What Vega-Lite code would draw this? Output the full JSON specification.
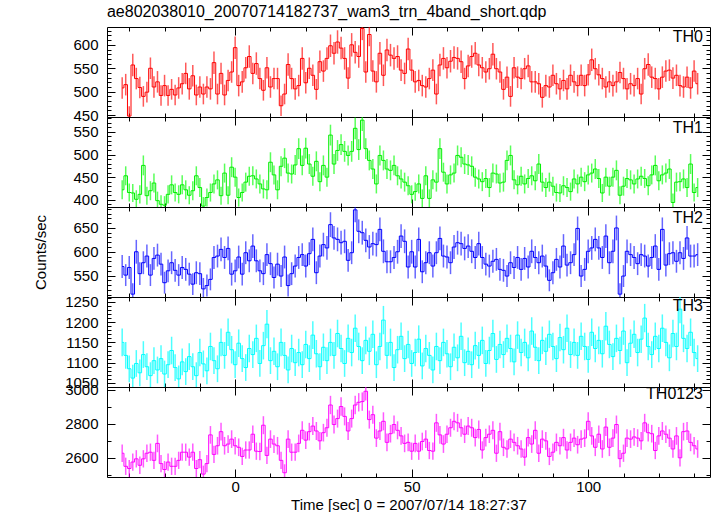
{
"$schema":"https://vega.github.io/schema/vega-lite/v6.json",
"padding":{"left":33,"top":3,"right":0,"bottom":0},
"title":{"text":"ae802038010_20070714182737_wam3_trn_4band_short.qdp","anchor":"start","fontSize":16,"fontWeight":"normal","offset":6,"dx":73},
"spacing":0,
"bounds":"flush",
"config":{
 "view":{"stroke":null},
 "font":"Liberation Sans",
 "numberFormat":"d",
 "axis":{"grid":false,"domainColor":"#000","domainWidth":1,"tickColor":"#000","tickWidth":1,"labelColor":"#000","labelFont":"Liberation Sans","labelFontSize":15,"labelPadding":17,"labelOverlap":false,"labelFlush":false,"format":"d","titleFont":"Liberation Sans","titleFontSize":15,"titleFontWeight":"normal","titleColor":"#000"},
 "title":{"font":"Liberation Sans","fontSize":16,"fontWeight":"normal","color":"#000"}
},
"datasets":{
"th0":[{"t":-32,"v":508,"e":23},{"t":-31,"v":515,"e":23},{"t":-30,"v":448,"e":21},{"t":-29,"v":557,"e":24},{"t":-28,"v":528,"e":23},{"t":-27,"v":509,"e":23},{"t":-26,"v":490,"e":22},{"t":-25,"v":499,"e":22},{"t":-24,"v":550,"e":23},{"t":-23,"v":510,"e":23},{"t":-22,"v":521,"e":23},{"t":-21,"v":492,"e":22},{"t":-20,"v":513,"e":23},{"t":-19,"v":492,"e":22},{"t":-18,"v":505,"e":22},{"t":-17,"v":493,"e":22},{"t":-16,"v":508,"e":23},{"t":-15,"v":517,"e":23},{"t":-14,"v":539,"e":23},{"t":-13,"v":506,"e":23},{"t":-12,"v":534,"e":23},{"t":-11,"v":493,"e":22},{"t":-10,"v":510,"e":23},{"t":-9,"v":495,"e":22},{"t":-8,"v":510,"e":23},{"t":-7,"v":506,"e":23},{"t":-6,"v":562,"e":24},{"t":-5,"v":495,"e":22},{"t":-4,"v":539,"e":23},{"t":-3,"v":493,"e":22},{"t":-2,"v":524,"e":23},{"t":-1,"v":542,"e":23},{"t":0,"v":594,"e":24},{"t":1,"v":513,"e":23},{"t":2,"v":521,"e":23},{"t":3,"v":551,"e":23},{"t":4,"v":575,"e":24},{"t":5,"v":539,"e":23},{"t":6,"v":560,"e":24},{"t":7,"v":528,"e":23},{"t":8,"v":503,"e":22},{"t":9,"v":551,"e":23},{"t":10,"v":510,"e":23},{"t":11,"v":528,"e":23},{"t":12,"v":528,"e":23},{"t":13,"v":470,"e":22},{"t":14,"v":495,"e":22},{"t":15,"v":558,"e":24},{"t":16,"v":528,"e":23},{"t":17,"v":506,"e":23},{"t":18,"v":513,"e":23},{"t":19,"v":571,"e":24},{"t":20,"v":519,"e":23},{"t":21,"v":550,"e":23},{"t":22,"v":535,"e":23},{"t":23,"v":505,"e":22},{"t":24,"v":564,"e":24},{"t":25,"v":544,"e":23},{"t":26,"v":571,"e":24},{"t":27,"v":598,"e":24},{"t":28,"v":582,"e":24},{"t":29,"v":606,"e":25},{"t":30,"v":593,"e":24},{"t":31,"v":571,"e":24},{"t":32,"v":529,"e":23},{"t":33,"v":600,"e":25},{"t":34,"v":584,"e":24},{"t":35,"v":575,"e":24},{"t":36,"v":635,"e":25},{"t":37,"v":542,"e":23},{"t":38,"v":622,"e":25},{"t":39,"v":544,"e":23},{"t":40,"v":521,"e":23},{"t":41,"v":582,"e":24},{"t":42,"v":535,"e":23},{"t":43,"v":589,"e":24},{"t":44,"v":578,"e":24},{"t":45,"v":571,"e":24},{"t":46,"v":575,"e":24},{"t":47,"v":546,"e":23},{"t":48,"v":539,"e":23},{"t":49,"v":591,"e":24},{"t":50,"v":546,"e":23},{"t":51,"v":521,"e":23},{"t":52,"v":524,"e":23},{"t":53,"v":513,"e":23},{"t":54,"v":510,"e":23},{"t":55,"v":528,"e":23},{"t":56,"v":546,"e":23},{"t":57,"v":495,"e":22},{"t":58,"v":557,"e":24},{"t":59,"v":571,"e":24},{"t":60,"v":551,"e":23},{"t":61,"v":565,"e":24},{"t":62,"v":573,"e":24},{"t":63,"v":571,"e":24},{"t":64,"v":564,"e":24},{"t":65,"v":528,"e":23},{"t":66,"v":555,"e":24},{"t":67,"v":575,"e":24},{"t":68,"v":582,"e":24},{"t":69,"v":557,"e":24},{"t":70,"v":551,"e":23},{"t":71,"v":542,"e":23},{"t":72,"v":549,"e":23},{"t":73,"v":580,"e":24},{"t":74,"v":549,"e":23},{"t":75,"v":542,"e":23},{"t":76,"v":505,"e":22},{"t":77,"v":531,"e":23},{"t":78,"v":490,"e":22},{"t":79,"v":551,"e":23},{"t":80,"v":531,"e":23},{"t":81,"v":528,"e":23},{"t":82,"v":549,"e":23},{"t":83,"v":555,"e":24},{"t":84,"v":521,"e":23},{"t":85,"v":521,"e":23},{"t":86,"v":517,"e":23},{"t":87,"v":488,"e":22},{"t":88,"v":513,"e":23},{"t":89,"v":510,"e":23},{"t":90,"v":535,"e":23},{"t":91,"v":517,"e":23},{"t":92,"v":506,"e":23},{"t":93,"v":524,"e":23},{"t":94,"v":506,"e":23},{"t":95,"v":535,"e":23},{"t":96,"v":521,"e":23},{"t":97,"v":513,"e":23},{"t":98,"v":535,"e":23},{"t":99,"v":513,"e":23},{"t":100,"v":536,"e":23},{"t":101,"v":568,"e":24},{"t":102,"v":549,"e":23},{"t":103,"v":536,"e":23},{"t":104,"v":528,"e":23},{"t":105,"v":510,"e":23},{"t":106,"v":521,"e":23},{"t":107,"v":513,"e":23},{"t":108,"v":521,"e":23},{"t":109,"v":541,"e":23},{"t":110,"v":528,"e":23},{"t":111,"v":506,"e":23},{"t":112,"v":517,"e":23},{"t":113,"v":513,"e":23},{"t":114,"v":528,"e":23},{"t":115,"v":495,"e":22},{"t":116,"v":549,"e":23},{"t":117,"v":558,"e":24},{"t":118,"v":531,"e":23},{"t":119,"v":528,"e":23},{"t":120,"v":506,"e":23},{"t":121,"v":531,"e":23},{"t":122,"v":544,"e":23},{"t":123,"v":546,"e":23},{"t":124,"v":529,"e":23},{"t":125,"v":535,"e":23},{"t":126,"v":513,"e":23},{"t":127,"v":510,"e":23},{"t":128,"v":531,"e":23},{"t":129,"v":508,"e":23},{"t":130,"v":544,"e":23},{"t":131,"v":517,"e":23}],
"th1":[{"t":-32,"v":422,"e":21},{"t":-31,"v":453,"e":21},{"t":-30,"v":416,"e":20},{"t":-29,"v":415,"e":20},{"t":-28,"v":401,"e":20},{"t":-27,"v":412,"e":20},{"t":-26,"v":476,"e":22},{"t":-25,"v":409,"e":20},{"t":-24,"v":420,"e":21},{"t":-23,"v":437,"e":21},{"t":-22,"v":398,"e":20},{"t":-21,"v":390,"e":20},{"t":-20,"v":388,"e":20},{"t":-19,"v":412,"e":20},{"t":-18,"v":433,"e":21},{"t":-17,"v":416,"e":20},{"t":-16,"v":412,"e":20},{"t":-15,"v":433,"e":21},{"t":-14,"v":422,"e":21},{"t":-13,"v":410,"e":20},{"t":-12,"v":420,"e":21},{"t":-11,"v":453,"e":21},{"t":-10,"v":427,"e":21},{"t":-9,"v":386,"e":20},{"t":-8,"v":405,"e":20},{"t":-7,"v":416,"e":20},{"t":-6,"v":435,"e":21},{"t":-5,"v":444,"e":21},{"t":-4,"v":409,"e":20},{"t":-3,"v":459,"e":21},{"t":-2,"v":410,"e":20},{"t":-1,"v":472,"e":22},{"t":0,"v":450,"e":21},{"t":1,"v":405,"e":20},{"t":2,"v":416,"e":20},{"t":3,"v":439,"e":21},{"t":4,"v":452,"e":21},{"t":5,"v":453,"e":21},{"t":6,"v":446,"e":21},{"t":7,"v":435,"e":21},{"t":8,"v":424,"e":21},{"t":9,"v":422,"e":21},{"t":10,"v":483,"e":22},{"t":11,"v":455,"e":21},{"t":12,"v":422,"e":21},{"t":13,"v":474,"e":22},{"t":14,"v":492,"e":22},{"t":15,"v":459,"e":21},{"t":16,"v":457,"e":21},{"t":17,"v":477,"e":22},{"t":18,"v":513,"e":23},{"t":19,"v":476,"e":22},{"t":20,"v":514,"e":23},{"t":21,"v":479,"e":22},{"t":22,"v":452,"e":21},{"t":23,"v":485,"e":22},{"t":24,"v":440,"e":21},{"t":25,"v":476,"e":22},{"t":26,"v":450,"e":21},{"t":27,"v":543,"e":23},{"t":28,"v":479,"e":22},{"t":29,"v":509,"e":23},{"t":30,"v":522,"e":23},{"t":31,"v":507,"e":23},{"t":32,"v":498,"e":22},{"t":33,"v":507,"e":23},{"t":34,"v":558,"e":24},{"t":35,"v":511,"e":23},{"t":36,"v":576,"e":24},{"t":37,"v":513,"e":23},{"t":38,"v":487,"e":22},{"t":39,"v":468,"e":22},{"t":40,"v":435,"e":21},{"t":41,"v":498,"e":22},{"t":42,"v":487,"e":22},{"t":43,"v":468,"e":22},{"t":44,"v":465,"e":22},{"t":45,"v":476,"e":22},{"t":46,"v":453,"e":21},{"t":47,"v":446,"e":21},{"t":48,"v":439,"e":21},{"t":49,"v":431,"e":21},{"t":50,"v":412,"e":20},{"t":51,"v":418,"e":20},{"t":52,"v":435,"e":21},{"t":53,"v":403,"e":20},{"t":54,"v":453,"e":21},{"t":55,"v":403,"e":20},{"t":56,"v":444,"e":21},{"t":57,"v":439,"e":21},{"t":58,"v":513,"e":23},{"t":59,"v":461,"e":21},{"t":60,"v":435,"e":21},{"t":61,"v":455,"e":21},{"t":62,"v":459,"e":21},{"t":63,"v":498,"e":22},{"t":64,"v":494,"e":22},{"t":65,"v":479,"e":22},{"t":66,"v":477,"e":22},{"t":67,"v":474,"e":22},{"t":68,"v":450,"e":21},{"t":69,"v":446,"e":21},{"t":70,"v":440,"e":21},{"t":71,"v":447,"e":21},{"t":72,"v":427,"e":21},{"t":73,"v":459,"e":21},{"t":74,"v":457,"e":21},{"t":75,"v":437,"e":21},{"t":76,"v":439,"e":21},{"t":77,"v":487,"e":22},{"t":78,"v":498,"e":22},{"t":79,"v":444,"e":21},{"t":80,"v":433,"e":21},{"t":81,"v":452,"e":21},{"t":82,"v":435,"e":21},{"t":83,"v":447,"e":21},{"t":84,"v":453,"e":21},{"t":85,"v":442,"e":21},{"t":86,"v":479,"e":22},{"t":87,"v":439,"e":21},{"t":88,"v":427,"e":21},{"t":89,"v":439,"e":21},{"t":90,"v":430,"e":21},{"t":91,"v":416,"e":20},{"t":92,"v":415,"e":20},{"t":93,"v":431,"e":21},{"t":94,"v":427,"e":21},{"t":95,"v":418,"e":20},{"t":96,"v":446,"e":21},{"t":97,"v":435,"e":21},{"t":98,"v":450,"e":21},{"t":99,"v":440,"e":21},{"t":100,"v":455,"e":21},{"t":101,"v":459,"e":21},{"t":102,"v":468,"e":22},{"t":103,"v":447,"e":21},{"t":104,"v":415,"e":20},{"t":105,"v":450,"e":21},{"t":106,"v":430,"e":21},{"t":107,"v":450,"e":21},{"t":108,"v":465,"e":22},{"t":109,"v":410,"e":20},{"t":110,"v":430,"e":21},{"t":111,"v":447,"e":21},{"t":112,"v":444,"e":21},{"t":113,"v":435,"e":21},{"t":114,"v":446,"e":21},{"t":115,"v":452,"e":21},{"t":116,"v":447,"e":21},{"t":117,"v":431,"e":21},{"t":118,"v":455,"e":21},{"t":119,"v":476,"e":22},{"t":120,"v":442,"e":21},{"t":121,"v":455,"e":21},{"t":122,"v":459,"e":21},{"t":123,"v":468,"e":22},{"t":124,"v":394,"e":20},{"t":125,"v":439,"e":21},{"t":126,"v":440,"e":21},{"t":127,"v":446,"e":21},{"t":128,"v":427,"e":21},{"t":129,"v":479,"e":22},{"t":130,"v":416,"e":20},{"t":131,"v":427,"e":21}],
"th2":[{"t":-32,"v":569,"e":24},{"t":-31,"v":551,"e":23},{"t":-30,"v":567,"e":24},{"t":-29,"v":511,"e":23},{"t":-28,"v":600,"e":25},{"t":-27,"v":554,"e":24},{"t":-26,"v":577,"e":24},{"t":-25,"v":591,"e":24},{"t":-24,"v":551,"e":23},{"t":-23,"v":586,"e":24},{"t":-22,"v":593,"e":24},{"t":-21,"v":574,"e":24},{"t":-20,"v":535,"e":23},{"t":-19,"v":560,"e":24},{"t":-18,"v":577,"e":24},{"t":-17,"v":561,"e":24},{"t":-16,"v":551,"e":23},{"t":-15,"v":567,"e":24},{"t":-14,"v":563,"e":24},{"t":-13,"v":553,"e":24},{"t":-12,"v":532,"e":23},{"t":-11,"v":556,"e":24},{"t":-10,"v":554,"e":24},{"t":-9,"v":522,"e":23},{"t":-8,"v":529,"e":23},{"t":-7,"v":542,"e":23},{"t":-6,"v":588,"e":24},{"t":-5,"v":591,"e":24},{"t":-4,"v":605,"e":25},{"t":-3,"v":588,"e":24},{"t":-2,"v":607,"e":25},{"t":-1,"v":553,"e":24},{"t":0,"v":560,"e":24},{"t":1,"v":589,"e":24},{"t":2,"v":553,"e":24},{"t":3,"v":598,"e":24},{"t":4,"v":581,"e":24},{"t":5,"v":612,"e":25},{"t":6,"v":581,"e":24},{"t":7,"v":560,"e":24},{"t":8,"v":554,"e":24},{"t":9,"v":594,"e":24},{"t":10,"v":575,"e":24},{"t":11,"v":546,"e":23},{"t":12,"v":574,"e":24},{"t":13,"v":549,"e":23},{"t":14,"v":589,"e":24},{"t":15,"v":529,"e":23},{"t":16,"v":554,"e":24},{"t":17,"v":570,"e":24},{"t":18,"v":588,"e":24},{"t":19,"v":594,"e":24},{"t":20,"v":570,"e":24},{"t":21,"v":596,"e":24},{"t":22,"v":626,"e":25},{"t":23,"v":556,"e":24},{"t":24,"v":591,"e":24},{"t":25,"v":615,"e":25},{"t":26,"v":608,"e":25},{"t":27,"v":657,"e":26},{"t":28,"v":629,"e":25},{"t":29,"v":626,"e":25},{"t":30,"v":619,"e":25},{"t":31,"v":622,"e":25},{"t":32,"v":582,"e":24},{"t":33,"v":598,"e":24},{"t":34,"v":688,"e":26},{"t":35,"v":643,"e":25},{"t":36,"v":640,"e":25},{"t":37,"v":624,"e":25},{"t":38,"v":610,"e":25},{"t":39,"v":617,"e":25},{"t":40,"v":615,"e":25},{"t":41,"v":647,"e":25},{"t":42,"v":601,"e":25},{"t":43,"v":579,"e":24},{"t":44,"v":579,"e":24},{"t":45,"v":588,"e":24},{"t":46,"v":600,"e":25},{"t":47,"v":633,"e":25},{"t":48,"v":622,"e":25},{"t":49,"v":568,"e":24},{"t":50,"v":600,"e":25},{"t":51,"v":568,"e":24},{"t":52,"v":626,"e":25},{"t":53,"v":558,"e":24},{"t":54,"v":577,"e":24},{"t":55,"v":598,"e":24},{"t":56,"v":570,"e":24},{"t":57,"v":598,"e":24},{"t":58,"v":628,"e":25},{"t":59,"v":591,"e":24},{"t":60,"v":589,"e":24},{"t":61,"v":577,"e":24},{"t":62,"v":610,"e":25},{"t":63,"v":619,"e":25},{"t":64,"v":617,"e":25},{"t":65,"v":607,"e":25},{"t":66,"v":612,"e":25},{"t":67,"v":601,"e":25},{"t":68,"v":588,"e":24},{"t":69,"v":617,"e":25},{"t":70,"v":588,"e":24},{"t":71,"v":574,"e":24},{"t":72,"v":570,"e":24},{"t":73,"v":580,"e":24},{"t":74,"v":584,"e":24},{"t":75,"v":563,"e":24},{"t":76,"v":561,"e":24},{"t":77,"v":549,"e":23},{"t":78,"v":577,"e":24},{"t":79,"v":567,"e":24},{"t":80,"v":588,"e":24},{"t":81,"v":563,"e":24},{"t":82,"v":586,"e":24},{"t":83,"v":568,"e":24},{"t":84,"v":601,"e":25},{"t":85,"v":588,"e":24},{"t":86,"v":577,"e":24},{"t":87,"v":591,"e":24},{"t":88,"v":570,"e":24},{"t":89,"v":540,"e":23},{"t":90,"v":556,"e":24},{"t":91,"v":584,"e":24},{"t":92,"v":568,"e":24},{"t":93,"v":612,"e":25},{"t":94,"v":572,"e":24},{"t":95,"v":577,"e":24},{"t":96,"v":594,"e":24},{"t":97,"v":649,"e":25},{"t":98,"v":549,"e":23},{"t":99,"v":563,"e":24},{"t":100,"v":601,"e":25},{"t":101,"v":608,"e":25},{"t":102,"v":626,"e":25},{"t":103,"v":608,"e":25},{"t":104,"v":588,"e":24},{"t":105,"v":633,"e":25},{"t":106,"v":577,"e":24},{"t":107,"v":601,"e":25},{"t":108,"v":650,"e":26},{"t":109,"v":511,"e":23},{"t":110,"v":549,"e":23},{"t":111,"v":601,"e":25},{"t":112,"v":594,"e":24},{"t":113,"v":588,"e":24},{"t":114,"v":575,"e":24},{"t":115,"v":594,"e":24},{"t":116,"v":591,"e":24},{"t":117,"v":570,"e":24},{"t":118,"v":588,"e":24},{"t":119,"v":612,"e":25},{"t":120,"v":563,"e":24},{"t":121,"v":647,"e":25},{"t":122,"v":572,"e":24},{"t":123,"v":596,"e":24},{"t":124,"v":598,"e":24},{"t":125,"v":580,"e":24},{"t":126,"v":598,"e":24},{"t":127,"v":586,"e":24},{"t":128,"v":629,"e":25},{"t":129,"v":591,"e":24},{"t":130,"v":591,"e":24},{"t":131,"v":594,"e":24}],
"th3":[{"t":-32,"v":1150,"e":34},{"t":-31,"v":1118,"e":33},{"t":-30,"v":1085,"e":33},{"t":-29,"v":1062,"e":33},{"t":-28,"v":1098,"e":33},{"t":-27,"v":1075,"e":33},{"t":-26,"v":1120,"e":33},{"t":-25,"v":1090,"e":33},{"t":-24,"v":1068,"e":33},{"t":-23,"v":1105,"e":33},{"t":-22,"v":1082,"e":33},{"t":-21,"v":1110,"e":33},{"t":-20,"v":1072,"e":33},{"t":-19,"v":1095,"e":33},{"t":-18,"v":1130,"e":34},{"t":-17,"v":1088,"e":33},{"t":-16,"v":1060,"e":33},{"t":-15,"v":1102,"e":33},{"t":-14,"v":1078,"e":33},{"t":-13,"v":1115,"e":33},{"t":-12,"v":1090,"e":33},{"t":-11,"v":1068,"e":33},{"t":-10,"v":1125,"e":34},{"t":-9,"v":1097,"e":33},{"t":-8,"v":1080,"e":33},{"t":-7,"v":1140,"e":34},{"t":-6,"v":1105,"e":33},{"t":-5,"v":1085,"e":33},{"t":-4,"v":1150,"e":34},{"t":-3,"v":1118,"e":33},{"t":-2,"v":1175,"e":34},{"t":-1,"v":1132,"e":34},{"t":0,"v":1095,"e":33},{"t":1,"v":1148,"e":34},{"t":2,"v":1110,"e":33},{"t":3,"v":1088,"e":33},{"t":4,"v":1135,"e":34},{"t":5,"v":1120,"e":33},{"t":6,"v":1160,"e":34},{"t":7,"v":1098,"e":33},{"t":8,"v":1142,"e":34},{"t":9,"v":1195,"e":35},{"t":10,"v":1105,"e":33},{"t":11,"v":1128,"e":34},{"t":12,"v":1090,"e":33},{"t":13,"v":1150,"e":34},{"t":14,"v":1118,"e":33},{"t":15,"v":1082,"e":33},{"t":16,"v":1135,"e":34},{"t":17,"v":1100,"e":33},{"t":18,"v":1125,"e":34},{"t":19,"v":1095,"e":33},{"t":20,"v":1145,"e":34},{"t":21,"v":1110,"e":33},{"t":22,"v":1168,"e":34},{"t":23,"v":1122,"e":34},{"t":24,"v":1090,"e":33},{"t":25,"v":1138,"e":34},{"t":26,"v":1105,"e":33},{"t":27,"v":1150,"e":34},{"t":28,"v":1118,"e":33},{"t":29,"v":1172,"e":34},{"t":30,"v":1135,"e":34},{"t":31,"v":1098,"e":33},{"t":32,"v":1160,"e":34},{"t":33,"v":1125,"e":34},{"t":34,"v":1185,"e":34},{"t":35,"v":1140,"e":34},{"t":36,"v":1105,"e":33},{"t":37,"v":1155,"e":34},{"t":38,"v":1128,"e":34},{"t":39,"v":1170,"e":34},{"t":40,"v":1095,"e":33},{"t":41,"v":1140,"e":34},{"t":42,"v":1205,"e":35},{"t":43,"v":1118,"e":33},{"t":44,"v":1150,"e":34},{"t":45,"v":1088,"e":33},{"t":46,"v":1132,"e":34},{"t":47,"v":1165,"e":34},{"t":48,"v":1110,"e":33},{"t":49,"v":1145,"e":34},{"t":50,"v":1098,"e":33},{"t":51,"v":1125,"e":34},{"t":52,"v":1158,"e":34},{"t":53,"v":1092,"e":33},{"t":54,"v":1135,"e":34},{"t":55,"v":1118,"e":33},{"t":56,"v":1082,"e":33},{"t":57,"v":1140,"e":34},{"t":58,"v":1105,"e":33},{"t":59,"v":1150,"e":34},{"t":60,"v":1122,"e":34},{"t":61,"v":1090,"e":33},{"t":62,"v":1138,"e":34},{"t":63,"v":1112,"e":33},{"t":64,"v":1165,"e":34},{"t":65,"v":1100,"e":33},{"t":66,"v":1128,"e":34},{"t":67,"v":1095,"e":33},{"t":68,"v":1142,"e":34},{"t":69,"v":1118,"e":33},{"t":70,"v":1155,"e":34},{"t":71,"v":1098,"e":33},{"t":72,"v":1130,"e":34},{"t":73,"v":1172,"e":34},{"t":74,"v":1108,"e":33},{"t":75,"v":1145,"e":34},{"t":76,"v":1120,"e":33},{"t":77,"v":1160,"e":34},{"t":78,"v":1135,"e":34},{"t":79,"v":1102,"e":33},{"t":80,"v":1168,"e":34},{"t":81,"v":1125,"e":34},{"t":82,"v":1150,"e":34},{"t":83,"v":1112,"e":33},{"t":84,"v":1178,"e":34},{"t":85,"v":1138,"e":34},{"t":86,"v":1105,"e":33},{"t":87,"v":1155,"e":34},{"t":88,"v":1128,"e":34},{"t":89,"v":1170,"e":34},{"t":90,"v":1140,"e":34},{"t":91,"v":1110,"e":33},{"t":92,"v":1162,"e":34},{"t":93,"v":1132,"e":34},{"t":94,"v":1185,"e":34},{"t":95,"v":1120,"e":33},{"t":96,"v":1150,"e":34},{"t":97,"v":1118,"e":33},{"t":98,"v":1165,"e":34},{"t":99,"v":1140,"e":34},{"t":100,"v":1108,"e":33},{"t":101,"v":1175,"e":34},{"t":102,"v":1135,"e":34},{"t":103,"v":1155,"e":34},{"t":104,"v":1122,"e":34},{"t":105,"v":1190,"e":35},{"t":106,"v":1145,"e":34},{"t":107,"v":1115,"e":33},{"t":108,"v":1160,"e":34},{"t":109,"v":1130,"e":34},{"t":110,"v":1178,"e":34},{"t":111,"v":1100,"e":33},{"t":112,"v":1148,"e":34},{"t":113,"v":1170,"e":34},{"t":114,"v":1125,"e":34},{"t":115,"v":1158,"e":34},{"t":116,"v":1210,"e":35},{"t":117,"v":1140,"e":34},{"t":118,"v":1120,"e":33},{"t":119,"v":1165,"e":34},{"t":120,"v":1135,"e":34},{"t":121,"v":1185,"e":34},{"t":122,"v":1150,"e":34},{"t":123,"v":1112,"e":33},{"t":124,"v":1172,"e":34},{"t":125,"v":1140,"e":34},{"t":126,"v":1232,"e":35},{"t":127,"v":1160,"e":34},{"t":128,"v":1135,"e":34},{"t":129,"v":1175,"e":34},{"t":130,"v":1125,"e":34},{"t":131,"v":1110,"e":33}],
"th0123":[{"t":-32,"v":2627,"e":51},{"t":-31,"v":2550,"e":51},{"t":-30,"v":2537,"e":50},{"t":-29,"v":2575,"e":51},{"t":-28,"v":2594,"e":51},{"t":-27,"v":2556,"e":51},{"t":-26,"v":2594,"e":51},{"t":-25,"v":2627,"e":51},{"t":-24,"v":2633,"e":51},{"t":-23,"v":2585,"e":51},{"t":-22,"v":2685,"e":52},{"t":-21,"v":2566,"e":51},{"t":-20,"v":2531,"e":50},{"t":-19,"v":2575,"e":51},{"t":-18,"v":2550,"e":51},{"t":-17,"v":2550,"e":51},{"t":-16,"v":2585,"e":51},{"t":-15,"v":2633,"e":51},{"t":-14,"v":2633,"e":51},{"t":-13,"v":2604,"e":51},{"t":-12,"v":2633,"e":51},{"t":-11,"v":2537,"e":50},{"t":-10,"v":2589,"e":51},{"t":-9,"v":2504,"e":50},{"t":-8,"v":2566,"e":51},{"t":-7,"v":2735,"e":52},{"t":-6,"v":2620,"e":51},{"t":-5,"v":2671,"e":52},{"t":-4,"v":2754,"e":52},{"t":-3,"v":2671,"e":52},{"t":-2,"v":2681,"e":52},{"t":-1,"v":2710,"e":52},{"t":0,"v":2671,"e":52},{"t":1,"v":2662,"e":52},{"t":2,"v":2608,"e":51},{"t":3,"v":2646,"e":51},{"t":4,"v":2646,"e":51},{"t":5,"v":2739,"e":52},{"t":6,"v":2639,"e":51},{"t":7,"v":2637,"e":51},{"t":8,"v":2792,"e":53},{"t":9,"v":2614,"e":51},{"t":10,"v":2710,"e":52},{"t":11,"v":2681,"e":52},{"t":12,"v":2671,"e":52},{"t":13,"v":2585,"e":51},{"t":14,"v":2512,"e":50},{"t":15,"v":2710,"e":52},{"t":16,"v":2633,"e":51},{"t":17,"v":2633,"e":51},{"t":18,"v":2685,"e":52},{"t":19,"v":2762,"e":53},{"t":20,"v":2704,"e":52},{"t":21,"v":2754,"e":52},{"t":22,"v":2787,"e":53},{"t":23,"v":2758,"e":53},{"t":24,"v":2700,"e":52},{"t":25,"v":2748,"e":52},{"t":26,"v":2777,"e":53},{"t":27,"v":2911,"e":54},{"t":28,"v":2796,"e":53},{"t":29,"v":2831,"e":53},{"t":30,"v":2902,"e":54},{"t":31,"v":2844,"e":53},{"t":32,"v":2758,"e":53},{"t":33,"v":2831,"e":53},{"t":34,"v":2911,"e":54},{"t":35,"v":2927,"e":54},{"t":36,"v":2931,"e":54},{"t":37,"v":2992,"e":55},{"t":38,"v":2825,"e":53},{"t":39,"v":2854,"e":53},{"t":40,"v":2716,"e":52},{"t":41,"v":2758,"e":53},{"t":42,"v":2815,"e":53},{"t":43,"v":2691,"e":52},{"t":44,"v":2742,"e":52},{"t":45,"v":2796,"e":53},{"t":46,"v":2762,"e":53},{"t":47,"v":2729,"e":52},{"t":48,"v":2685,"e":52},{"t":49,"v":2691,"e":52},{"t":50,"v":2639,"e":51},{"t":51,"v":2685,"e":52},{"t":52,"v":2639,"e":51},{"t":53,"v":2696,"e":52},{"t":54,"v":2710,"e":52},{"t":55,"v":2643,"e":51},{"t":56,"v":2639,"e":51},{"t":57,"v":2806,"e":53},{"t":58,"v":2735,"e":52},{"t":59,"v":2681,"e":52},{"t":60,"v":2739,"e":52},{"t":61,"v":2777,"e":53},{"t":62,"v":2815,"e":53},{"t":63,"v":2806,"e":53},{"t":64,"v":2777,"e":53},{"t":65,"v":2739,"e":52},{"t":66,"v":2787,"e":53},{"t":67,"v":2777,"e":53},{"t":68,"v":2719,"e":52},{"t":69,"v":2767,"e":53},{"t":70,"v":2646,"e":51},{"t":71,"v":2719,"e":52},{"t":72,"v":2739,"e":52},{"t":73,"v":2762,"e":53},{"t":74,"v":2627,"e":51},{"t":75,"v":2754,"e":52},{"t":76,"v":2662,"e":52},{"t":77,"v":2652,"e":52},{"t":78,"v":2710,"e":52},{"t":79,"v":2691,"e":52},{"t":80,"v":2671,"e":52},{"t":81,"v":2652,"e":52},{"t":82,"v":2604,"e":51},{"t":83,"v":2719,"e":52},{"t":84,"v":2681,"e":52},{"t":85,"v":2762,"e":53},{"t":86,"v":2627,"e":51},{"t":87,"v":2710,"e":52},{"t":88,"v":2700,"e":52},{"t":89,"v":2608,"e":51},{"t":90,"v":2633,"e":51},{"t":91,"v":2691,"e":52},{"t":92,"v":2671,"e":52},{"t":93,"v":2719,"e":52},{"t":94,"v":2646,"e":51},{"t":95,"v":2691,"e":52},{"t":96,"v":2716,"e":52},{"t":97,"v":2677,"e":52},{"t":98,"v":2710,"e":52},{"t":99,"v":2716,"e":52},{"t":100,"v":2815,"e":53},{"t":101,"v":2729,"e":52},{"t":102,"v":2662,"e":52},{"t":103,"v":2739,"e":52},{"t":104,"v":2652,"e":52},{"t":105,"v":2781,"e":53},{"t":106,"v":2662,"e":52},{"t":107,"v":2716,"e":52},{"t":108,"v":2796,"e":53},{"t":109,"v":2595,"e":51},{"t":110,"v":2627,"e":51},{"t":111,"v":2716,"e":52},{"t":112,"v":2710,"e":52},{"t":113,"v":2723,"e":52},{"t":114,"v":2716,"e":52},{"t":115,"v":2700,"e":52},{"t":116,"v":2806,"e":53},{"t":117,"v":2748,"e":52},{"t":118,"v":2742,"e":52},{"t":119,"v":2643,"e":51},{"t":120,"v":2729,"e":52},{"t":121,"v":2758,"e":53},{"t":122,"v":2739,"e":52},{"t":123,"v":2716,"e":52},{"t":124,"v":2652,"e":52},{"t":125,"v":2729,"e":52},{"t":126,"v":2600,"e":51},{"t":127,"v":2754,"e":52},{"t":128,"v":2758,"e":53},{"t":129,"v":2691,"e":52},{"t":130,"v":2671,"e":52},{"t":131,"v":2652,"e":52}]
},
"vconcat":[
{"width":603,"height":90,"data":{"name":"th0"},
 "title":{"text":"TH0","anchor":"end","frame":"group","offset":-19,"fontSize":16,"dx":-7},
 "layer":[
  {"mark":{"type":"errorbar","color":"#ff0000","opacity":0.65,"thickness":1.5,"clip":true},
   "encoding":{"x":{"field":"t","type":"quantitative","scale":{"domain":[-36.3,134.5],"nice":false,"zero":false},"axis":{"orient":"bottom","values":[0,50,100],"tickSize":-8,"labels":false,"title":null}},
    "y":{"field":"v","type":"quantitative","scale":{"domain":[446,638],"nice":false,"zero":false,"clamp":true},"axis":{"orient":"left","values":[450,500,550,600],"tickSize":-8,"title":null}},
    "yError":{"field":"e"}}},
  {"mark":{"type":"line","interpolate":"step","color":"#ff0000","strokeWidth":1,"clip":true},
   "encoding":{"x":{"field":"t","type":"quantitative","axis":{"orient":"bottom","values":[-30,-20,-10,10,20,30,40,60,70,80,90,110,120,130],"tickSize":-4,"labels":false,"domain":false,"title":null}},
    "y":{"field":"v","type":"quantitative","axis":{"orient":"left","values":[460,470,480,490,510,520,530,540,560,570,580,590,610,620,630],"tickSize":-4,"labels":false,"domain":false,"title":null}}}},
  {"mark":{"type":"point","opacity":0},
   "encoding":{"x":{"field":"t","type":"quantitative","axis":{"orient":"top","values":[0,50,100],"tickSize":-8,"labels":false,"title":null}},
    "y":{"field":"v","type":"quantitative","axis":{"orient":"right","values":[450,500,550,600],"tickSize":-8,"labels":false,"title":null}}}},
  {"mark":{"type":"point","opacity":0},
   "encoding":{"x":{"field":"t","type":"quantitative","axis":{"orient":"top","values":[-30,-20,-10,10,20,30,40,60,70,80,90,110,120,130],"tickSize":-4,"labels":false,"domain":false,"title":null}},
    "y":{"field":"v","type":"quantitative","axis":{"orient":"right","values":[460,470,480,490,510,520,530,540,560,570,580,590,610,620,630],"tickSize":-4,"labels":false,"domain":false,"title":null}}}}
 ],
 "resolve":{"axis":{"x":"independent","y":"independent"}}
},
{"width":603,"height":90,"data":{"name":"th1"},
 "title":{"text":"TH1","anchor":"end","frame":"group","offset":-19,"fontSize":16,"dx":-7},
 "layer":[
  {"mark":{"type":"errorbar","color":"#00ff00","opacity":0.65,"thickness":1.5,"clip":true},
   "encoding":{"x":{"field":"t","type":"quantitative","scale":{"domain":[-36.3,134.5],"nice":false,"zero":false},"axis":{"orient":"bottom","values":[0,50,100],"tickSize":-8,"labels":false,"title":null}},
    "y":{"field":"v","type":"quantitative","scale":{"domain":[384,583],"nice":false,"zero":false,"clamp":true},"axis":{"orient":"left","values":[400,450,500,550],"tickSize":-8,"title":null}},
    "yError":{"field":"e"}}},
  {"mark":{"type":"line","interpolate":"step","color":"#00ee00","strokeWidth":1,"clip":true},
   "encoding":{"x":{"field":"t","type":"quantitative","axis":{"orient":"bottom","values":[-30,-20,-10,10,20,30,40,60,70,80,90,110,120,130],"tickSize":-4,"labels":false,"domain":false,"title":null}},
    "y":{"field":"v","type":"quantitative","axis":{"orient":"left","values":[390,410,420,430,440,460,470,480,490,510,520,530,540,560,570,580],"tickSize":-4,"labels":false,"domain":false,"title":null}}}},
  {"mark":{"type":"point","opacity":0},
   "encoding":{"x":{"field":"t","type":"quantitative","axis":{"orient":"top","values":[0,50,100],"tickSize":-8,"labels":false,"title":null}},
    "y":{"field":"v","type":"quantitative","axis":{"orient":"right","values":[400,450,500,550],"tickSize":-8,"labels":false,"title":null}}}},
  {"mark":{"type":"point","opacity":0},
   "encoding":{"x":{"field":"t","type":"quantitative","axis":{"orient":"top","values":[-30,-20,-10,10,20,30,40,60,70,80,90,110,120,130],"tickSize":-4,"labels":false,"domain":false,"title":null}},
    "y":{"field":"v","type":"quantitative","axis":{"orient":"right","values":[390,410,420,430,440,460,470,480,490,510,520,530,540,560,570,580],"tickSize":-4,"labels":false,"domain":false,"title":null}}}}
 ],
 "resolve":{"axis":{"x":"independent","y":"independent"}}
},
{"width":603,"height":90,"data":{"name":"th2"},
 "title":{"text":"TH2","anchor":"end","frame":"group","offset":-19,"fontSize":16,"dx":-7},
 "layer":[
  {"mark":{"type":"errorbar","color":"#0000ff","opacity":0.6,"thickness":1.5,"clip":true},
   "encoding":{"x":{"field":"t","type":"quantitative","scale":{"domain":[-36.3,134.5],"nice":false,"zero":false},"axis":{"orient":"bottom","values":[0,50,100],"tickSize":-8,"labels":false,"title":null}},
    "y":{"field":"v","type":"quantitative","scale":{"domain":[505,694],"nice":false,"zero":false,"clamp":true},"axis":{"orient":"left","values":[550,600,650],"tickSize":-8,"title":"Counts/sec","titlePadding":24}},
    "yError":{"field":"e"}}},
  {"mark":{"type":"line","interpolate":"step","color":"#0000ff","strokeWidth":1,"clip":true},
   "encoding":{"x":{"field":"t","type":"quantitative","axis":{"orient":"bottom","values":[-30,-20,-10,10,20,30,40,60,70,80,90,110,120,130],"tickSize":-4,"labels":false,"domain":false,"title":null}},
    "y":{"field":"v","type":"quantitative","axis":{"orient":"left","values":[510,520,530,540,560,570,580,590,610,620,630,640,660,670,680,690],"tickSize":-4,"labels":false,"domain":false,"title":null}}}},
  {"mark":{"type":"point","opacity":0},
   "encoding":{"x":{"field":"t","type":"quantitative","axis":{"orient":"top","values":[0,50,100],"tickSize":-8,"labels":false,"title":null}},
    "y":{"field":"v","type":"quantitative","axis":{"orient":"right","values":[550,600,650],"tickSize":-8,"labels":false,"title":null}}}},
  {"mark":{"type":"point","opacity":0},
   "encoding":{"x":{"field":"t","type":"quantitative","axis":{"orient":"top","values":[-30,-20,-10,10,20,30,40,60,70,80,90,110,120,130],"tickSize":-4,"labels":false,"domain":false,"title":null}},
    "y":{"field":"v","type":"quantitative","axis":{"orient":"right","values":[510,520,530,540,560,570,580,590,610,620,630,640,660,670,680,690],"tickSize":-4,"labels":false,"domain":false,"title":null}}}}
 ],
 "resolve":{"axis":{"x":"independent","y":"independent"}}
},
{"width":603,"height":90,"data":{"name":"th3"},
 "title":{"text":"TH3","anchor":"end","frame":"group","offset":-19,"fontSize":16,"dx":-7},
 "layer":[
  {"mark":{"type":"errorbar","color":"#00ffff","opacity":0.7,"thickness":1.5,"clip":true},
   "encoding":{"x":{"field":"t","type":"quantitative","scale":{"domain":[-36.3,134.5],"nice":false,"zero":false},"axis":{"orient":"bottom","values":[0,50,100],"tickSize":-8,"labels":false,"title":null}},
    "y":{"field":"v","type":"quantitative","scale":{"domain":[1040,1262],"nice":false,"zero":false,"clamp":true},"axis":{"orient":"left","values":[1050,1100,1150,1200,1250],"tickSize":-8,"title":null}},
    "yError":{"field":"e"}}},
  {"mark":{"type":"line","interpolate":"step","color":"#00ffff","strokeWidth":1,"clip":true},
   "encoding":{"x":{"field":"t","type":"quantitative","axis":{"orient":"bottom","values":[-30,-20,-10,10,20,30,40,60,70,80,90,110,120,130],"tickSize":-4,"labels":false,"domain":false,"title":null}},
    "y":{"field":"v","type":"quantitative","axis":{"orient":"left","values":[1060,1070,1080,1090,1110,1120,1130,1140,1160,1170,1180,1190,1210,1220,1230,1240,1260],"tickSize":-4,"labels":false,"domain":false,"title":null}}}},
  {"mark":{"type":"point","opacity":0},
   "encoding":{"x":{"field":"t","type":"quantitative","axis":{"orient":"top","values":[0,50,100],"tickSize":-8,"labels":false,"title":null}},
    "y":{"field":"v","type":"quantitative","axis":{"orient":"right","values":[1050,1100,1150,1200,1250],"tickSize":-8,"labels":false,"title":null}}}},
  {"mark":{"type":"point","opacity":0},
   "encoding":{"x":{"field":"t","type":"quantitative","axis":{"orient":"top","values":[-30,-20,-10,10,20,30,40,60,70,80,90,110,120,130],"tickSize":-4,"labels":false,"domain":false,"title":null}},
    "y":{"field":"v","type":"quantitative","axis":{"orient":"right","values":[1060,1070,1080,1090,1110,1120,1130,1140,1160,1170,1180,1190,1210,1220,1230,1240,1260],"tickSize":-4,"labels":false,"domain":false,"title":null}}}}
 ],
 "resolve":{"axis":{"x":"independent","y":"independent"}}
},
{"width":603,"height":90,"data":{"name":"th0123"},
 "title":{"text":"TH0123","anchor":"end","frame":"group","offset":-19,"fontSize":16,"dx":-7},
 "layer":[
  {"mark":{"type":"errorbar","color":"#ff00ff","opacity":0.65,"thickness":1.5,"clip":true},
   "encoding":{"x":{"field":"t","type":"quantitative","scale":{"domain":[-36.3,134.5],"nice":false,"zero":false},"axis":{"orient":"bottom","values":[0,50,100],"tickSize":-8,"labelPadding":10,"titlePadding":3,"title":"Time [sec] 0 = 2007/07/14 18:27:37"}},
    "y":{"field":"v","type":"quantitative","scale":{"domain":[2487,3017],"nice":false,"zero":false,"clamp":true},"axis":{"orient":"left","values":[2600,2800,3000],"tickSize":-8,"title":null}},
    "yError":{"field":"e"}}},
  {"mark":{"type":"line","interpolate":"step","color":"#ff00ff","strokeWidth":1,"clip":true},
   "encoding":{"x":{"field":"t","type":"quantitative","axis":{"orient":"bottom","values":[-30,-20,-10,10,20,30,40,60,70,80,90,110,120,130],"tickSize":-4,"labels":false,"domain":false,"title":null}},
    "y":{"field":"v","type":"quantitative","axis":{"orient":"left","values":[2500,2700,2900],"tickSize":-4,"labels":false,"domain":false,"title":null}}}},
  {"mark":{"type":"point","opacity":0},
   "encoding":{"x":{"field":"t","type":"quantitative","axis":{"orient":"top","values":[0,50,100],"tickSize":-8,"labels":false,"title":null}},
    "y":{"field":"v","type":"quantitative","axis":{"orient":"right","values":[2600,2800,3000],"tickSize":-8,"labels":false,"title":null}}}},
  {"mark":{"type":"point","opacity":0},
   "encoding":{"x":{"field":"t","type":"quantitative","axis":{"orient":"top","values":[-30,-20,-10,10,20,30,40,60,70,80,90,110,120,130],"tickSize":-4,"labels":false,"domain":false,"title":null}},
    "y":{"field":"v","type":"quantitative","axis":{"orient":"right","values":[2500,2700,2900],"tickSize":-4,"labels":false,"domain":false,"title":null}}}}
 ],
 "resolve":{"axis":{"x":"independent","y":"independent"}}
}
]
}
